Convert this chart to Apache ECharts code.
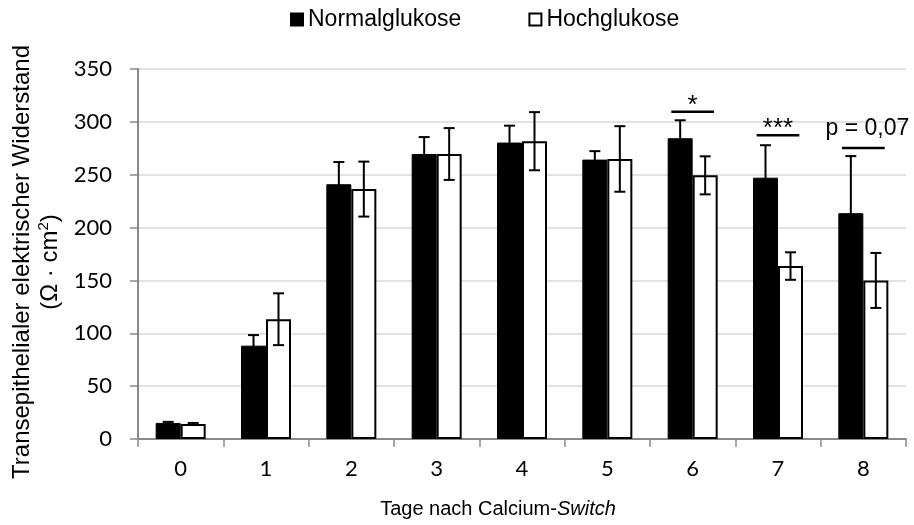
<!DOCTYPE html>
<html>
<head>
<meta charset="utf-8">
<script src="https://cdn.jsdelivr.net/npm/echarts@6/dist/echarts.min.js"></script>
<style>html,body{margin:0;padding:0;background:#fff}#c{width:914px;height:525px}</style>
</head>
<body>
<div id="c"></div>
<script>
const days = ['0', '1', '2', '3', '4', '5', '6', '7', '8'];
const normalMean = [15.2, 88.3, 241.0, 269.6, 280.4, 264.3, 284.5, 247.2, 213.6];
const normalErr  = [1.0, 10.0, 21.0, 16.0, 16.0, 8.0, 17.0, 30.7, 54.0];
const highMean   = [14.2, 113.3, 236.4, 269.6, 281.7, 264.9, 249.4, 163.6, 150.0];
const highErr    = [1.0, 24.5, 26.0, 24.5, 27.5, 31.0, 18.0, 13.0, 26.0];
const yTicks = [0, 50, 100, 150, 200, 250, 300, 350];
const sigDays   = [6, 7, 8];
const sigLevels = [309.5, 287.4, 275.3];
const sigLabels = ['*', '***', 'p = 0,07'];

const chart = echarts.init(document.getElementById('c'), null, {renderer: 'canvas'});
const AX = '#898989';
const BAR_W = 25;
const ARIAL = '"Liberation Sans", Arial, sans-serif';

function errRender(offset) {
  return function (params, api) {
    const x = api.value(0), m = api.value(1), e = api.value(2);
    const top = api.coord([x, m + e]);
    const bot = api.coord([x, m - e]);
    const cx = top[0] + offset;
    const cw = 5.5;
    const st = {stroke: '#000', lineWidth: 2};
    return {
      type: 'group',
      children: [
        {type: 'line', shape: {x1: cx, y1: top[1], x2: cx, y2: bot[1]}, style: st},
        {type: 'line', shape: {x1: cx - cw, y1: top[1], x2: cx + cw, y2: top[1]}, style: st},
        {type: 'line', shape: {x1: cx - cw, y1: bot[1], x2: cx + cw, y2: bot[1]}, style: st}
      ]
    };
  };
}

function sigRender(params, api) {
  const x = api.value(0), lvl = api.value(1);
  const label = sigLabels[params.dataIndex];
  const p = api.coord([x, lvl]);
  const bw = api.size([1, 0])[0];
  const half = bw * 0.25;
  const isStars = /^\*+$/.test(label);
  const text = isStars
    ? {type: 'text', x: p[0], y: p[1] + 7,
       style: {text: label, fill: '#000', font: '26px ' + ARIAL, align: 'center', verticalAlign: 'bottom'}}
    : {type: 'text', x: p[0] + 4, y: p[1] - 19,
       style: {text: label, fill: '#000', font: '23px ' + ARIAL, align: 'center', verticalAlign: 'middle'}};
  return {
    type: 'group',
    children: [
      {type: 'line', shape: {x1: p[0] - half, y1: p[1], x2: p[0] + half, y2: p[1]},
       style: {stroke: '#000', lineWidth: 2.5}},
      text
    ]
  };
}

const option = {
  backgroundColor: '#fff',
  animation: false,
  legend: {
    left: 290, top: 8, padding: 0,
    itemWidth: 12, itemHeight: 12, itemGap: 67,
    textStyle: {fontFamily: ARIAL, fontSize: 23, color: '#000'},
    data: [
      {name: 'Normalglukose', icon: 'rect'},
      {name: 'Hochglukose', icon: 'rect'}
    ]
  },
  grid: {left: 138, right: 8, top: 69, bottom: 86, containLabel: false},
  xAxis: {
    type: 'category',
    data: days,
    boundaryGap: true,
    axisLine: {lineStyle: {color: AX, width: 2}},
    axisTick: {show: true, length: 8, lineStyle: {color: AX, width: 1.5}},
    axisLabel: {color: '#000', fontFamily: 'Lato, sans-serif', fontSize: 22, margin: 19},
    name: 'Tage nach Calcium-{i|Switch}',
    nameLocation: 'middle',
    nameGap: 60,
    nameTextStyle: {
      color: '#000', fontFamily: ARIAL, fontSize: 20, padding: [0, 48, 0, 0],
      rich: {i: {fontStyle: 'italic', fontFamily: ARIAL, fontSize: 20, color: '#000'}}
    }
  },
  yAxis: {
    type: 'value',
    min: 0, max: 350, interval: 50,
    axisLine: {show: true, lineStyle: {color: AX, width: 2}},
    axisTick: {show: true, length: 8, lineStyle: {color: AX, width: 1.5}},
    splitLine: {lineStyle: {color: '#d9d9d9', width: 1.5}},
    axisLabel: {color: '#000', fontFamily: 'Lato, sans-serif', fontSize: 22, margin: 26,
      formatter: v => yTicks.indexOf(v) >= 0 ? String(v) : ''},
    name: '{a|Transepithelialer elektrischer Widerstand}\n{a|(Ω · cm}{s|2}{a|)}',
    nameLocation: 'middle',
    nameRotate: 90,
    nameGap: 74,
    nameTextStyle: {
      color: '#000', padding: [0, 16, 0, 0],
      rich: {
        a: {fontFamily: ARIAL, fontSize: 24, color: '#000', lineHeight: 28},
        s: {fontFamily: ARIAL, fontSize: 15, color: '#000', verticalAlign: 'top', lineHeight: 28, padding: [0, 0, 8, 0]}
      }
    }
  },
  series: [
    {
      name: 'Normalglukose', type: 'bar', data: normalMean,
      barWidth: BAR_W, barGap: '0%',
      itemStyle: {color: '#000', borderColor: '#000', borderWidth: 1}
    },
    {
      name: 'Hochglukose', type: 'bar', data: highMean,
      barWidth: BAR_W, barGap: '0%',
      itemStyle: {color: '#fff', borderColor: '#000', borderWidth: 2}
    },
    {
      name: 'errN', type: 'custom', z: 5,
      renderItem: errRender(-BAR_W / 2),
      data: days.map((d, i) => [i, normalMean[i], normalErr[i]])
    },
    {
      name: 'errH', type: 'custom', z: 5,
      renderItem: errRender(BAR_W / 2),
      data: days.map((d, i) => [i, highMean[i], highErr[i]])
    },
    {
      name: 'sig', type: 'custom', z: 6,
      renderItem: sigRender,
      data: sigDays.map((d, i) => [d, sigLevels[i]])
    }
  ]
};
chart.setOption(option);
</script>
</body>
</html>
